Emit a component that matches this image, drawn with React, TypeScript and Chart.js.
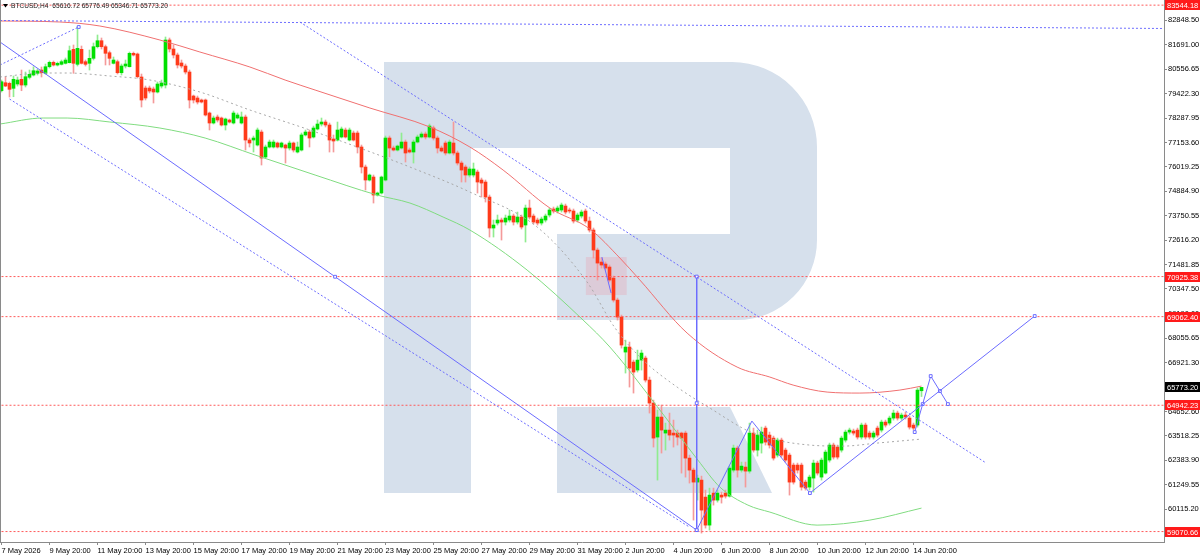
import React, { useEffect, useRef } from 'react';
import { Chart, registerables } from 'chart.js';

Chart.register(...registerables);

// ---------- DATA ----------
const symbolTitle = 'BTCUSD,H4';
const headerValues = ['65616.72', '65776.49', '65346.71', '65773.20'];

const xLabels = [
  '7 May 2026', '9 May 20:00', '11 May 20:00', '13 May 20:00', '15 May 20:00', '17 May 20:00',
  '19 May 20:00', '21 May 20:00', '23 May 20:00', '25 May 20:00', '27 May 20:00', '29 May 20:00',
  '31 May 20:00', '2 Jun 20:00', '4 Jun 20:00', '6 Jun 20:00', '8 Jun 20:00', '10 Jun 20:00',
  '12 Jun 20:00', '14 Jun 20:00',
];

const yTickValues = [
  60115.2, 61249.55, 62383.9, 63518.25, 64652.6, 65786.95, 66921.3, 68055.65, 69190.0,
  70347.5, 71481.85, 72616.2, 73750.55, 74884.9, 76019.25, 77153.6, 78287.95, 79422.3,
  80556.65, 81691.0, 82848.5,
];

const opens = [
  79565, 79937, 79910, 79677, 79877, 80096, 79830, 80189, 80295, 80375,
  80528, 80375, 80681, 80886, 80760, 80793, 80840, 80868, 81491, 80793,
  81491, 80914, 80840, 81072, 81611, 81890, 81611, 81332, 80840, 80914,
  80402, 80714, 80681, 81305, 81272, 80203, 79691, 79691, 79645, 79505,
  79784, 79830, 81923, 81505, 81226, 80854, 80714, 80435, 79319, 79226,
  79133, 79133, 78529, 78064, 78343, 78296, 77971, 78203, 78064, 78296,
  78064, 78343, 77273, 77273, 77041, 77645, 76483, 76948, 76948, 77134,
  76948, 77041, 76901, 77134, 76715, 76808, 77508, 77645, 77413, 77785,
  78017, 78110, 77971, 77320, 77273, 77413, 77738, 77273, 77599, 77599,
  76948, 76018, 75413, 75553, 74716, 74809, 75413, 77366, 76901, 76808,
  76901, 77180, 76808, 76715, 77180, 77413, 77552, 77413, 77831, 77366,
  76901, 77134, 76669, 77134, 76669, 76204, 76018, 75646, 75646, 75785,
  75413, 75320, 74622, 73181, 73414, 73553, 73460, 73553, 73739, 73460,
  73693, 73321, 74111, 73739, 73553, 73414, 73553, 73786, 74065, 73972,
  74018, 74204, 74018, 73972, 73553, 73739, 73972, 73507, 73088, 72158,
  71600, 71507, 71368, 70856, 69833, 69043, 67415, 67648, 66950, 66578,
  67043, 67136, 66113, 65044, 63463, 64393, 63649, 63788, 63649, 63649,
  63649, 63649, 62486, 61928, 61370, 61463, 60672, 59370, 60858, 60533,
  60766, 60858, 60719, 61928, 62951, 61928, 62068, 61881, 63649, 62858,
  63183, 63881, 63556, 63416, 62626, 63323, 62858, 62626, 62161, 62161,
  62161, 61370, 61138, 61556, 62254, 61603, 61789, 62393, 63091, 62998,
  62858, 63323, 63695, 63742, 63788, 63463, 64021, 63649, 63463, 63881,
  63788, 64160, 64114, 64346, 64579, 64346, 64486, 64346, 64021, 64021,
  65616.72,
];

const highs = [
  80063, 80216, 79970, 80249, 80203, 80528, 80435, 80528, 80681, 80575,
  80668, 80807, 80947, 80947, 80900, 80993, 81086, 81644, 81691, 82541,
  81644, 80993, 81458, 81784, 82156, 82016, 81691, 81412, 81133, 80993,
  80807, 80993, 81365, 81365, 81319, 80342, 79784, 79784, 79738, 79970,
  80063, 82063, 82016, 81691, 81319, 80993, 80807, 80528, 79365, 79319,
  79180, 79180, 78575, 78389, 78436, 78343, 78296, 78250, 78622, 78529,
  78575, 78436, 77366, 77459, 77831, 77738, 77041, 77273, 77273, 77180,
  77180, 77087, 77227, 77180, 77180, 77599, 77738, 77738, 77924, 78203,
  78296, 78203, 78064, 77506, 78110, 77878, 77831, 77831, 77692, 77692,
  77041, 76111, 75692, 75646, 74855, 75599, 77459, 77459, 76994, 77041,
  77599, 77273, 76901, 77273, 77506, 77645, 77645, 78017, 77924, 77459,
  76994, 77227, 77273, 78110, 76762, 76297, 76111, 76018, 76204, 75878,
  75506, 75413, 74716, 73553, 73786, 73646, 73786, 74018, 73832, 73925,
  73786, 74251, 74483, 73832, 73646, 73693, 73832, 74111, 74158, 74204,
  74344, 74297, 74111, 74065, 73879, 74018, 74065, 73693, 73181, 72251,
  71786, 71600, 71461, 70949, 69926, 69136, 67973, 67880, 67043, 67508,
  67508, 67229, 66253, 65183, 64718, 64951, 64114, 64579, 64253, 63788,
  63695, 63742, 62626, 62021, 61696, 61649, 61000, 61091, 61091, 61000,
  60905, 61000, 62114, 63091, 63044, 62300, 62300, 64114, 63881, 63788,
  63928, 63974, 63695, 63509, 63416, 63416, 62951, 62719, 62254, 62254,
  62254, 61463, 61696, 62393, 62347, 62486, 62858, 63184, 63184, 63091,
  63509, 63788, 63881, 63835, 63881, 64114, 64114, 63742, 63742, 63974,
  64253, 64253, 64439, 64718, 64672, 64579, 64625, 64439, 64114, 65741,
  65776.49,
];

const lows = [
  79505, 79751, 79273, 79286, 79784, 79565, 79738, 80110, 80249, 80295,
  80203, 80342, 80621, 80714, 80714, 80760, 80807, 80854, 80375, 80714,
  80807, 80714, 80528, 80993, 81551, 81505, 80761, 80761, 80807, 80342,
  80295, 80621, 80668, 81179, 80156, 78808, 79133, 79459, 78994, 79459,
  79691, 79691, 81365, 81086, 80621, 80621, 80342, 78761, 78994, 78947,
  78994, 78389, 77738, 78017, 78110, 77924, 77738, 78064, 78017, 78250,
  78017, 76808, 76948, 76715, 76994, 76111, 76436, 76901, 76901, 76901,
  76901, 76204, 76808, 76715, 76669, 76762, 77459, 76948, 77366, 77738,
  77924, 77878, 76715, 76715, 77227, 77366, 77366, 77227, 77227, 76669,
  75739, 74948, 75367, 74344, 74669, 74762, 75367, 76488, 76762, 76762,
  76855, 76250, 76669, 76204, 77134, 77366, 77320, 77366, 77273, 76669,
  76715, 76576, 76622, 76576, 76111, 75320, 75320, 75553, 75553, 74809,
  74622, 74390, 72763, 72763, 73321, 72623, 73321, 73460, 73321, 73367,
  73135, 72530, 73600, 73367, 73321, 73321, 73460, 73693, 73879, 73879,
  73925, 73832, 73879, 73414, 73460, 73646, 73414, 72995, 71786, 70763,
  71321, 71228, 70670, 69740, 68903, 67601, 66439, 65788, 65509, 66485,
  66578, 66020, 64579, 62998, 61463, 62719, 62858, 63323, 62998, 63091,
  61788, 61602, 61324, 59603, 60533, 59000, 59231, 59138, 60301, 60440,
  60394, 60626, 60672, 61835, 61602, 61835, 61138, 61788, 62765, 62579,
  62719, 63091, 62951, 62393, 62533, 62533, 62300, 60766, 61277, 61788,
  60998, 60998, 60998, 60905, 61696, 61463, 61742, 62300, 62440, 62440,
  62765, 63230, 63602, 63556, 63370, 63370, 63370, 63370, 63370, 63463,
  63695, 63928, 64021, 64253, 64253, 64253, 64300, 63835, 63788, 63928,
  65346.71,
];

const closes = [
  79984, 79784, 79631, 80096, 80063, 79830, 80216, 80328, 80495, 80482,
  80402, 80681, 80886, 80760, 80840, 80914, 80993, 81426, 80840, 81537,
  80840, 80793, 81072, 81611, 81890, 81611, 81305, 81072, 80993, 80402,
  80714, 80807, 81305, 81226, 80216, 79133, 79226, 79552, 79505, 79877,
  79924, 81923, 81505, 81226, 80761, 80714, 80435, 79133, 79133, 79040,
  79040, 78436, 78064, 78296, 78203, 77971, 78250, 78110, 78529, 78436,
  78343, 77273, 77134, 77366, 77738, 76436, 76948, 77180, 77180, 76948,
  77134, 76901, 77134, 76808, 76948, 77508, 77645, 77366, 77831, 78017,
  78110, 77971, 77273, 77227, 77738, 77785, 77413, 77738, 77273, 76948,
  76018, 75413, 75646, 74716, 74809, 75553, 77366, 76901, 76808, 76994,
  77180, 76669, 76715, 77180, 77413, 77552, 77413, 77924, 77366, 76901,
  76762, 76669, 77180, 76669, 76204, 75878, 75646, 75925, 75925, 75320,
  75273, 74622, 73181, 73321, 73553, 73460, 73646, 73739, 73460, 73693,
  73228, 74111, 73693, 73460, 73414, 73600, 73739, 74018, 73972, 74111,
  74251, 73925, 73972, 73507, 73786, 73925, 73507, 73088, 72158, 71553,
  71461, 71321, 70763, 69833, 69043, 67741, 67648, 66671, 66485, 67043,
  67369, 66113, 65044, 63416, 64393, 63788, 63788, 63556, 63556, 63463,
  63416, 62486, 61928, 61370, 61556, 60068, 59370, 60766, 60533, 60858,
  60672, 60719, 62021, 62951, 61928, 62114, 61881, 63649, 62858, 63556,
  63695, 63230, 63091, 62486, 63323, 62626, 62393, 61370, 61370, 61928,
  61138, 61091, 61603, 62254, 61789, 62393, 62765, 63091, 62533, 62533,
  63416, 63695, 63788, 63649, 63463, 64021, 63463, 63463, 63649, 63556,
  64160, 64021, 64346, 64579, 64346, 64486, 64393, 63928, 63881, 65648,
  65773.2,
];

// moving averages (bar index, value)
const redMaIndex = [-0.4, 14.6, 24.6, 39.6, 49.6, 62.1, 70.9, 78.4, 92.1, 107.1, 117.1, 125.4, 137.1, 147.1, 154.6, 159.6, 171.4, 183.9, 192.1, 197.9, 206.4, 214.6, 224.6, 230];
const redMaValues = [82807, 82760, 82574, 81923, 81365, 80668, 80063, 79598, 78761, 77878, 76948, 75878, 74111, 73135, 71786, 70763, 68299, 66718, 66253, 65881, 65555, 65509, 65648, 65834];

const greenMaIndex = [-0.4, 10.4, 16.4, 27.1, 39.6, 50.9, 63.4, 78.4, 93.9, 102.1, 110.4, 117.1, 131.4, 145.4, 152.1, 164.6, 174.1, 179.6, 186.6, 192.1, 203.9, 217.1, 230];
const greenMaValues = [78017, 78296, 78296, 78110, 77831, 77366, 76576, 75646, 74716, 74344, 73693, 73088, 71228, 68903, 67648, 64718, 62393, 61138, 60301, 59975, 59370, 59603, 60161];

const greyMaIndex = [-0.4, 10.4, 16.4, 27.1, 37.1, 49.6, 62.1, 77.1, 89.6, 102.1, 117.1, 133.9, 146.4, 153.4, 160.4, 168.9, 177.1, 187.9, 202.1, 210.4, 218.9, 230];
const greyMaValues = [80203, 80389, 80389, 80249, 80063, 79505, 78668, 77738, 76901, 76018, 74855, 73228, 70670, 68531, 67043, 65787, 64811, 63649, 63091, 63044, 63184, 63370];

// horizontal levels
const levels = [83544.18, 70925.38, 69062.4, 64942.23, 59070.66];
const lastPrice = 65773.2;

// drawn analysis objects (bar index / price)
const trendSolidX = [-0.375, 83.4, 173.8];
const trendSolidY = [81830, 70916, 59138];
const lowerChannelX = [2, 172];
const lowerChannelY = [79180, 59278];
const risingChannelX = [-0.375, 19.3];
const risingChannelY = [80761, 82528];
const upperChannelX = [74.6, 245.8];
const upperChannelY = [82760, 62300];
const topLineX = [-0.375, 291];
const topLineY = [82830, 82458];
const verticalX = [173.8, 173.8, 173.8];
const verticalY = [70925, 65040, 59138];
const zigzagX = [173.8, 187.6, 202.1, 258.3];
const zigzagY = [59138, 64207, 60859, 69089];
const forecastX = [228.3, 230.3, 232.3, 234.6, 236.6];
const forecastY = [63695, 64997, 66299, 65602, 64997];
const smallLegX = [150.1, 152.4];
const smallLegY = [71833, 70158];
const zoneX = [146.1, 156.3];
const zoneY = [71833, 70066];

// ---------- STYLE ----------
const FONT = "'Liberation Sans', Arial, sans-serif";
const BULL = '#00e000';
const BEAR = '#ff3a1a';
const BULL_WICK = '#90ec90';
const BEAR_WICK = '#f49a9a';
const BLUE = '#6c6cff';
const AXIS = '#8a8a8a';

const pts = (xs: number[], ys: number[]) => xs.map((x, k) => ({ x, y: ys[k] }));

const overlayPlugin = {
  id: 'mtOverlay',
  beforeDatasetsDraw(chart: any) {
    const { ctx, chartArea } = chart;
    const { left, top, right, bottom } = chartArea;
    ctx.save();
    ctx.beginPath();
    ctx.rect(left, top, right - left, bottom - top);
    ctx.clip();
    // watermark logo
    ctx.fillStyle = '#d6e0ec';
    ctx.fillRect(384, 62, 87, 431);
    ctx.beginPath();
    ctx.moveTo(471, 62);
    ctx.lineTo(735, 62);
    ctx.arcTo(817, 62, 817, 150, 85);
    ctx.lineTo(817, 240);
    ctx.arcTo(817, 320, 735, 320, 80);
    ctx.lineTo(557, 320);
    ctx.lineTo(557, 234);
    ctx.lineTo(730, 234);
    ctx.lineTo(730, 148);
    ctx.lineTo(471, 148);
    ctx.closePath();
    ctx.fill();
    ctx.beginPath();
    ctx.moveTo(557, 407);
    ctx.lineTo(730, 407);
    ctx.lineTo(772, 493);
    ctx.lineTo(557, 493);
    ctx.closePath();
    ctx.fill();
    // zone rectangle
    const xs = chart.scales.x;
    const ys = chart.scales.y;
    const x1 = xs.getPixelForValue(zoneX[0]);
    const x2 = xs.getPixelForValue(zoneX[1]);
    const y1 = ys.getPixelForValue(zoneY[0]);
    const y2 = ys.getPixelForValue(zoneY[1]);
    ctx.fillStyle = 'rgba(232,168,184,0.38)';
    ctx.fillRect(x1, y1, x2 - x1, y2 - y1);
    ctx.restore();
  },
  afterDraw(chart: any) {
    const { ctx, chartArea } = chart;
    const { left, top, right, bottom } = chartArea;
    const ys = chart.scales.y;
    ctx.save();
    // left frame
    ctx.strokeStyle = AXIS;
    ctx.lineWidth = 1;
    ctx.beginPath();
    ctx.moveTo(left + 0.5, top);
    ctx.lineTo(left + 0.5, bottom);
    ctx.stroke();
    // price labels
    ctx.font = `7.5px ${FONT}`;
    ctx.textBaseline = 'middle';
    ctx.textAlign = 'left';
    const drawTag = (v: number, bg: string) => {
      const y = Math.round(ys.getPixelForValue(v));
      ctx.fillStyle = bg;
      ctx.fillRect(right + 1, y - 5, 36, 10);
      ctx.fillStyle = '#ffffff';
      ctx.fillText(v.toFixed(2), right + 3, y + 0.5);
    };
    levels.forEach((v) => drawTag(v, '#ff1a1a'));
    drawTag(lastPrice, '#000000');
    // header
    ctx.fillStyle = '#000000';
    ctx.beginPath();
    ctx.moveTo(3, 4);
    ctx.lineTo(8, 4);
    ctx.lineTo(5.5, 7.5);
    ctx.closePath();
    ctx.fill();
    ctx.font = `6.6px ${FONT}`;
    ctx.fillStyle = '#202020';
    ctx.fillText(symbolTitle, 11, 6);
    const w = ctx.measureText(symbolTitle).width;
    ctx.fillText(headerValues.join(' '), 11 + w + 4, 6);
    ctx.restore();
  },
};

export default function App() {
  const ref = useRef<HTMLCanvasElement>(null);

  useEffect(() => {
    document.body.style.margin = '0';
    const canvas = ref.current;
    if (!canvas) return;
    const idx = closes.map((_, i) => i);
    const bull = (i: number) => closes[i] >= opens[i];

    const blueLine = (xs: number[], ys: number[], dashed: boolean, markers: number[]) => ({
      type: 'line' as const,
      data: pts(xs, ys),
      borderColor: BLUE,
      borderWidth: 1,
      borderDash: dashed ? [2, 2] : [],
      pointStyle: 'rect',
      pointRadius: xs.map((_, k) => (markers.includes(k) ? 2 : 0)),
      pointBorderColor: BLUE,
      pointBackgroundColor: '#ffffff',
      pointBorderWidth: 1,
      order: 3,
    });

    const maLine = (xs: number[], ys: number[], color: string, dashed: boolean) => ({
      type: 'line' as const,
      data: pts(xs, ys),
      borderColor: color,
      borderWidth: 1,
      borderDash: dashed ? [2, 3] : [],
      pointRadius: 0,
      cubicInterpolationMode: 'monotone' as const,
      order: 5,
    });

    const datasets: any[] = [
      {
        type: 'bar',
        data: idx.map((i) => ({ x: i, y: [lows[i], highs[i]] })),
        backgroundColor: (c: any) => (bull(c.dataIndex) ? BULL_WICK : BEAR_WICK),
        barThickness: 1,
        grouped: false,
        borderWidth: 0,
        order: 10,
      },
      {
        type: 'bar',
        data: idx.map((i) => ({ x: i, y: [opens[i], closes[i]] })),
        backgroundColor: (c: any) => (bull(c.dataIndex) ? BULL : BEAR),
        barThickness: 3,
        minBarLength: 1,
        grouped: false,
        borderWidth: 0,
        order: 9,
      },
      maLine(redMaIndex, redMaValues, '#f07070', false),
      maLine(greenMaIndex, greenMaValues, '#80dc80', false),
      maLine(greyMaIndex, greyMaValues, '#a8a8a8', true),
      ...levels.map((lv) => ({
        type: 'line',
        data: [{ x: -1, y: lv }, { x: 292, y: lv }],
        borderColor: '#ff5a5a',
        borderWidth: 1,
        borderDash: [2, 2],
        pointRadius: 0,
        order: 4,
      })),
      blueLine(trendSolidX, trendSolidY, false, [1, 2]),
      blueLine(lowerChannelX, lowerChannelY, true, []),
      blueLine(risingChannelX, risingChannelY, true, [1]),
      blueLine(upperChannelX, upperChannelY, true, []),
      blueLine(topLineX, topLineY, true, []),
      blueLine(verticalX, verticalY, false, [0, 1]),
      blueLine(zigzagX, zigzagY, false, [0, 2, 3]),
      blueLine(forecastX, forecastY, false, [0, 1, 2, 3, 4]),
      blueLine(smallLegX, smallLegY, false, []),
    ];

    const tickFont = { family: FONT, size: 7.5 };

    const chart = new Chart(canvas, {
      type: 'bar',
      data: { datasets },
      options: {
        responsive: false,
        animation: false,
        devicePixelRatio: 1,
        events: [],
        layout: { padding: 0, autoPadding: false },
        plugins: { legend: { display: false }, tooltip: { enabled: false } },
        scales: {
          x: {
            type: 'linear',
            min: -0.375,
            max: 290.625,
            offset: false,
            afterBuildTicks: (s: any) => {
              s.ticks = xLabels.map((_, k) => ({ value: k * 12 }));
            },
            afterFit: (s: any) => {
              s.height = 13;
              s.paddingLeft = 0;
              s.paddingRight = 0;
              s.paddingTop = 0;
              s.paddingBottom = 0;
            },
            ticks: {
              autoSkip: false,
              maxRotation: 0,
              minRotation: 0,
              align: 'start',
              padding: 1,
              color: '#000000',
              font: tickFont,
              callback: (v: any) => xLabels[Math.round(Number(v) / 12)] ?? '',
            },
            grid: { drawOnChartArea: false, offset: false, tickLength: 3, color: AXIS },
            border: { color: AXIS },
          },
          y: {
            type: 'linear',
            position: 'right',
            min: 58585,
            max: 83783,
            afterBuildTicks: (s: any) => {
              s.ticks = yTickValues.map((v) => ({ value: v }));
            },
            afterFit: (s: any) => {
              s.width = 36;
              s.paddingTop = 0;
              s.paddingBottom = 0;
              s.paddingLeft = 0;
              s.paddingRight = 0;
            },
            ticks: {
              autoSkip: false,
              padding: 1,
              color: '#000000',
              font: tickFont,
              callback: (v: any) => Number(v).toFixed(2),
            },
            grid: { drawOnChartArea: false, tickLength: 3, color: AXIS },
            border: { color: AXIS },
          },
        },
      } as any,
      plugins: [overlayPlugin],
    });

    return () => chart.destroy();
  }, []);

  return (
    <div style={{ width: 1200, height: 555, background: '#ffffff' }}>
      <canvas ref={ref} width={1200} height={555} style={{ display: 'block' }} />
    </div>
  );
}
